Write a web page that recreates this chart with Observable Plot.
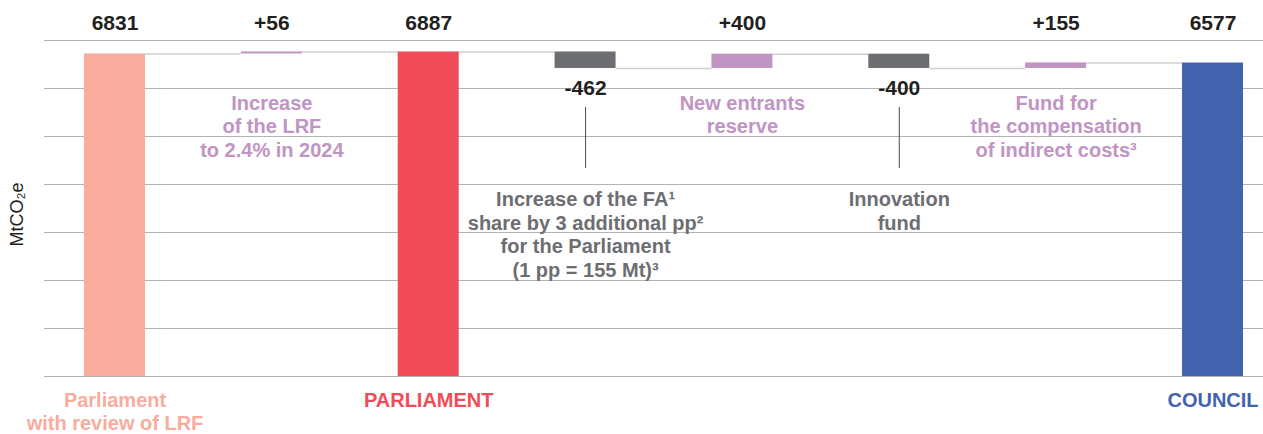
<!DOCTYPE html>
<html><head><meta charset="utf-8">
<script src="https://cdn.jsdelivr.net/npm/d3@7"></script>
<script src="https://cdn.jsdelivr.net/npm/@observablehq/plot@0.6"></script>
<style>
body{margin:0;background:#fff}
#chart svg{font-family:"Liberation Sans",Arial,Helvetica,sans-serif}
</style>
</head><body><div id="chart"></div>
<script>
// ---- data ----
const categories = ["Parliament with review of LRF", "Increase of the LRF", "PARLIAMENT", "Increase of the FA share", "New entrants reserve", "Innovation fund", "Compensation of indirect costs", "COUNCIL"];
const values = [6831, 56, 6887, -462, 400, -400, 155, 6577];
const kinds = ["total", "delta", "total", "delta", "delta", "delta", "delta", "total"];
const valueLabels = ["6831", "+56", "6887", "-462", "+400", "-400", "+155", "6577"];
const notes = ["", "Increase\nof the LRF\nto 2.4% in 2024", "", "Increase of the FA¹\nshare by 3 additional pp²\nfor the Parliament\n(1 pp = 155 Mt)³", "New entrants\nreserve", "Innovation\nfund", "Fund for\nthe compensation\nof indirect costs³", ""];
const axisLabels = ["Parliament\nwith review of LRF", "", "PARLIAMENT", "", "", "", "", "COUNCIL"];
const yTitle = "MtCO₂e";
const yDomain = [-2200, 7208];
const yGridStep = 1344;

// ---- styles ----
const totalColors = {"Parliament with review of LRF": "#f8ac9e", "PARLIAMENT": "#ef4c58", "COUNCIL": "#4363ae"};
const upColor = "#c094c3", downColor = "#6d6e71", ink = "#231f20";
const HALF = 0.1944;

// ---- build rows ----
let level = 0;
const rows = categories.map((c, i) => {
  let y1, y2, color;
  if (kinds[i] === "total") { y1 = yDomain[0]; y2 = values[i]; level = values[i]; color = totalColors[c]; }
  else { y1 = level; y2 = level + values[i]; level = y2; color = values[i] >= 0 ? upColor : downColor; }
  return {i, category: c, kind: kinds[i], value: values[i], y1, y2, end: level, color, label: valueLabels[i], note: notes[i], axisLabel: axisLabels[i]};
});
const connectors = rows.slice(0, -1).map((r, k) => ({x1: r.i + HALF, x2: rows[k + 1].i - HALF, y: r.end}));
const upper = rows.filter(d => d.kind === "total" || d.value >= 0);
const lower = rows.filter(d => d.kind === "delta" && d.value < 0);
const upNotes = rows.filter(d => d.kind === "delta" && d.value >= 0);
const totals = rows.filter(d => d.kind === "total");

const chart = Plot.plot({
  width: 1263, height: 434,
  marginTop: 40, marginBottom: 58, marginLeft: 44, marginRight: 0,
  x: {domain: [0, 7], range: [114.5, 1212.5], axis: null},
  y: {domain: yDomain, axis: null},
  color: {type: "identity"},
  style: {fontFamily: '"Liberation Sans", Arial, Helvetica, sans-serif', background: "#fff"},
  marks: [
    Plot.ruleY(d3.range(yDomain[0], yDomain[1] + 1, yGridStep), {stroke: "#b3b3b3", strokeWidth: 1}),
    Plot.ruleY(connectors, {x1: "x1", x2: "x2", y: "y", stroke: "#cfcfcf", strokeWidth: 1.5}),
    Plot.rectY(rows, {x1: d => d.i - HALF, x2: d => d.i + HALF, y1: "y1", y2: "y2", fill: "color"}),
    Plot.text(upper, {x: "i", text: "label", frameAnchor: "top", lineAnchor: "middle", dy: -17, fontSize: 21, fontWeight: "bold", fill: ink}),
    Plot.text(lower, {x: "i", y: "y2", text: "label", lineAnchor: "middle", dy: 20, fontSize: 21, fontWeight: "bold", fill: ink}),
    Plot.ruleX(lower, {x: "i", insetTop: 67, insetBottom: 208, stroke: "#4d4d4d", strokeWidth: 1}),
    Plot.text(upNotes, {x: "i", text: "note", frameAnchor: "top", lineAnchor: "top", dy: 53, lineHeight: 1.165, fontSize: 20, fontWeight: "bold", fill: upColor}),
    Plot.text(lower, {x: "i", text: "note", frameAnchor: "top", lineAnchor: "top", dy: 149, lineHeight: 1.18, fontSize: 20, fontWeight: "bold", fill: downColor}),
    Plot.text(totals, {x: "i", text: "axisLabel", frameAnchor: "bottom", lineAnchor: "top", dy: 14, lineHeight: 1.15, fontSize: 20, fontWeight: "bold", fill: "color"}),
    Plot.text([yTitle], {frameAnchor: "top-left", textAnchor: "middle", lineAnchor: "middle", dx: -27, dy: 174, rotate: -90, fontSize: 18, fill: ink})
  ]
});
document.getElementById("chart").appendChild(chart);
</script>
</body></html>
